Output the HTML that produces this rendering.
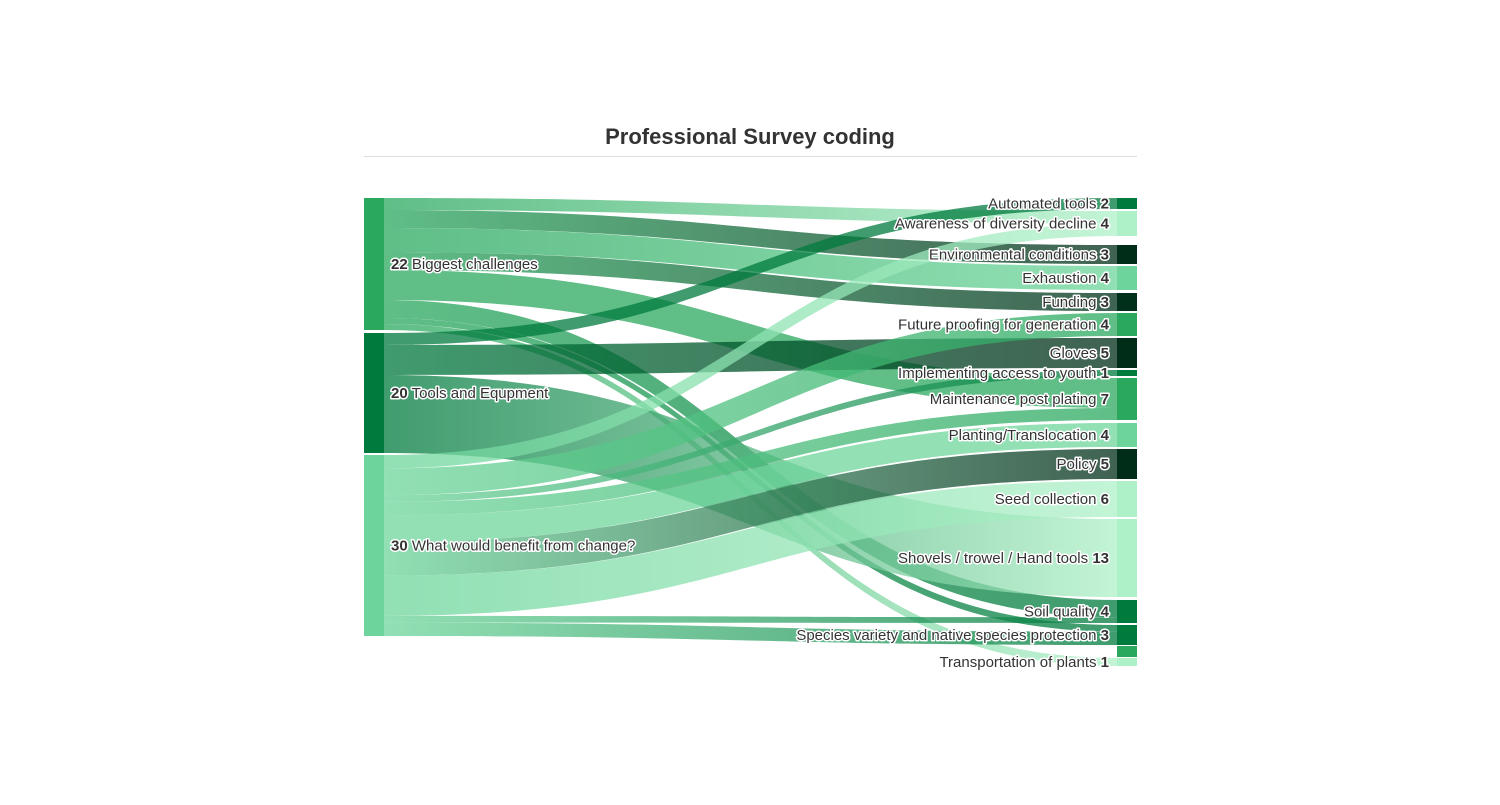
<!DOCTYPE html>
<html><head><meta charset="utf-8"><style>
body{margin:0;background:#fff;width:1500px;height:800px;overflow:hidden;font-family:"Liberation Sans",sans-serif}
svg text{font-family:"Liberation Sans",sans-serif;font-size:15px;fill:#333;paint-order:stroke;stroke:#fff;stroke-width:3px;stroke-linejoin:round}
</style></head><body>
<svg id="s" width="1500" height="800" xmlns="http://www.w3.org/2000/svg">
<text x="750" y="144" text-anchor="middle" style="font-size:22px;font-weight:bold;stroke:none;fill:#333">Professional Survey coding</text>
<line x1="364" y1="156.5" x2="1137" y2="156.5" stroke="#ddd" stroke-width="1"/>
<defs id="d"></defs>
<g id="links"></g>
<g id="nodes"></g>
</svg>
<script>
var L=[{n:"Biggest challenges",v:22,y0:198,y1:330,c:"#2aa85e"},{n:"Tools and Equpment",v:20,y0:333,y1:453,c:"#007a3d"},{n:"What would benefit from change?",v:30,y0:455,y1:636,c:"#6dd59b"}];
var R=[["Automated tools",2,198,209,"#007a3d"],["Awareness of diversity decline",4,211,236,"#aef0c8"],["Environmental conditions",3,245,264,"#002d18"],["Exhaustion",4,266,290,"#6dd59b"],["Funding",3,293,311,"#00301a"],["Future proofing for generation",4,313,336,"#2aa85e"],["Gloves",5,338,368,"#002d18"],["Implementing access to youth",1,370,376,"#007a3d"],["Maintenance post plating",7,378,420,"#2aa85e"],["Planting/Translocation",4,423,447,"#6dd59b"],["Policy",5,449,479,"#002d18"],["Seed collection",6,481,517,"#aef0c8"],["Shovels / trowel / Hand tools",13,519,597,"#aef0c8"],["Soil quality",4,600,623,"#007a3d"],["Species variety and native species protection",3,625,645,"#007a3d"],["Transportation of plants",1,658,666,"#aef0c8"]];
var K=[[0,1,2],[0,2,3],[0,3,4],[0,4,3],[0,8,5],[0,13,3],[0,14,1],[0,15,1],
[1,0,2],[1,6,5],[1,12,13],
[2,1,2],[2,5,4],[2,7,1],[2,8,2],[2,9,4],[2,10,5],[2,11,6],[2,13,1],[2,14,2]];
var NS="http://www.w3.org/2000/svg";
function el(t,a,p){var e=document.createElementNS(NS,t);for(var k in a)e.setAttribute(k,a[k]);p.appendChild(e);return e;}
var d=document.getElementById("d"),lg=document.getElementById("links"),ng=document.getElementById("nodes");
var sSum=[0,0,0],tSum=R.map(function(){return 0});
K.forEach(function(k){sSum[k[0]]+=k[2];tSum[k[1]]+=k[2];});
var sOff=L.map(function(n){return n.y0}),tOff=R.map(function(r){return r[2]});
var tpos={};
K.forEach(function(k,i){var h=(R[k[1]][3]-R[k[1]][2])*k[2]/tSum[k[1]];tpos[i]=[tOff[k[1]],tOff[k[1]]+h];tOff[k[1]]+=h;});
var x0=384,x1=1117,xm=(x0+x1)/2;
K.forEach(function(k,i){var s=L[k[0]];var h=(s.y1-s.y0)*k[2]/sSum[k[0]];var a=sOff[k[0]],b=a+h;sOff[k[0]]=b;var t=tpos[i];
var g=el("linearGradient",{id:"g"+i,x1:"0",x2:"1",y1:"0",y2:"0"},d);
el("stop",{offset:"0","stop-color":s.c},g);el("stop",{offset:"1","stop-color":R[k[1]][4]},g);
el("path",{d:"M"+x0+","+a+"C"+xm+","+a+" "+xm+","+t[0]+" "+x1+","+t[0]+"L"+x1+","+t[1]+"C"+xm+","+t[1]+" "+xm+","+b+" "+x0+","+b+"Z",fill:"url(#g"+i+")","fill-opacity":"0.75"},lg);});
el("rect",{x:1117,y:646,width:20,height:11,fill:"#2aa85e"},ng);
L.forEach(function(n){el("rect",{x:364,y:n.y0,width:20,height:n.y1-n.y0,fill:n.c},ng);
var t=el("text",{x:391,y:(n.y0+n.y1)/2+5},ng);var b=el("tspan",{"font-weight":"bold"},t);b.textContent=n.v;var r=el("tspan",{},t);r.textContent=" "+n.n;});
R.forEach(function(n){el("rect",{x:1117,y:n[2],width:20,height:n[3]-n[2],fill:n[4]},ng);
var t=el("text",{x:1109,y:(n[2]+n[3])/2+5,"text-anchor":"end"},ng);var r=el("tspan",{},t);r.textContent=n[0]+" ";var b=el("tspan",{"font-weight":"bold"},t);b.textContent=n[1];});
</script>
</body></html>
